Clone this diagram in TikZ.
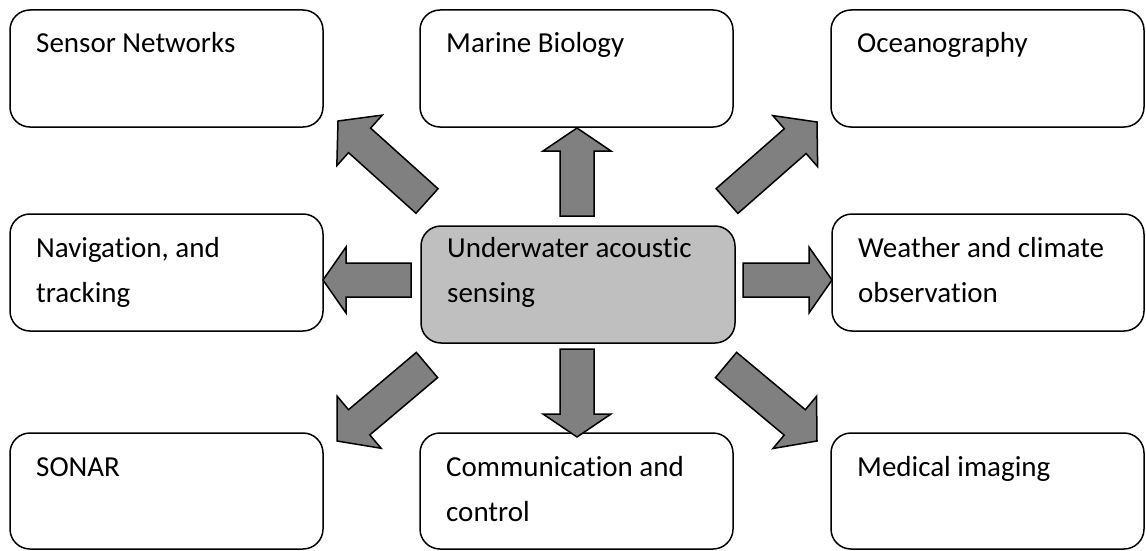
\documentclass[tikz,border=0pt]{standalone}
\usepackage{fontspec}
\setmainfont[Ligatures={NoCommon}]{Carlito}
\usetikzlibrary{calc}
\tikzset{
  box/.style={draw, line width=1.5pt, rounded corners=20pt, anchor=north west,
    minimum width=313pt, minimum height=117pt, inner sep=0pt, outer sep=0pt},
  centerbox/.style={box, fill=black!25},
  lbl/.style={anchor=base west, inner sep=0pt, font=\fontsize{29}{45}\selectfont},
  barrow/.style={draw, line width=1.5pt, fill=black!50, line join=miter}
}
% tail, tip, shaft half width, head half width, head length
\newcommand{\blockarr}[5]{%
  \coordinate (#1#2h) at ($(#2)!#5!(#1)$);
  \draw[barrow] ($(#1)!#3!90:(#2)$) -- ($(#1#2h)!#3!90:(#2)$) -- ($(#1#2h)!#4!90:(#2)$)
    -- (#2) -- ($(#1#2h)!#4!-90:(#2)$) -- ($(#1#2h)!#3!-90:(#2)$) -- ($(#1)!#3!-90:(#2)$) -- cycle;}
\begin{document}
\begin{tikzpicture}[x=1pt, y=-1pt]
\useasboundingbox (0,0) rectangle (1146,551);
% boxes
\node[box] (sn) at (10,10) {};
\node[box] (mb) at (420,10) {};
\node[box] (oc) at (831,10) {};
\node[box] (nav) at (10,214) {};
\node[centerbox, minimum width=314pt] (uas) at (421,226) {};
\node[box, minimum width=312pt] (wea) at (832,214) {};
\node[box, minimum height=116pt] (son) at (10,433) {};
\node[box, minimum height=116pt] (com) at (420,433) {};
\node[box, minimum height=116pt] (med) at (831,433) {};
% texts
\node[lbl] (snt) at (36,53) {Sensor Networks};
\node[lbl] (mbt) at (446,53) {Marine Biology};
\node[lbl] (oct) at (857,53) {Oceanography};
\node[lbl] (navt1) at (36,257) {Navigation, and};
\node[lbl] (navt2) at (36,302) {tracking};
\node[lbl] (uast1) at (447,257) {Underwater acoustic};
\node[lbl] (uast2) at (447,302) {sensing};
\node[lbl] (weat1) at (858,257) {Weather and climate};
\node[lbl] (weat2) at (858,302) {observation};
\node[lbl] (sont) at (36,476) {SONAR};
\node[lbl] (comt1) at (446,476) {Communication and};
\node[lbl] (comt2) at (446,521) {control};
\node[lbl] (medt) at (857,476) {Medical imaging};
% arrow end points
\coordinate (upT) at (577,216);  \coordinate (upP) at (577,128);
\coordinate (dnT) at (577,349);  \coordinate (dnP) at (577,437);
\coordinate (lfT) at (411,280);  \coordinate (lfP) at (323,280);
\coordinate (rtT) at (743,280);  \coordinate (rtP) at (832,280);
\coordinate (ulT) at (427,201);  \coordinate (ulP) at (338,121);
\coordinate (urT) at (727,201);  \coordinate (urP) at (817,122);
\coordinate (dlT) at (427,365);  \coordinate (dlP) at (337,441);
\coordinate (drT) at (726,365);  \coordinate (drP) at (817,441);
% arrows
\blockarr{upT}{upP}{17pt}{34pt}{23pt}
\blockarr{dnT}{dnP}{17pt}{34pt}{23pt}
\blockarr{lfT}{lfP}{17pt}{33pt}{23pt}
\blockarr{rtT}{rtP}{17pt}{33pt}{23pt}
\blockarr{ulT}{ulP}{16.5pt}{34pt}{29pt}
\blockarr{urT}{urP}{16.5pt}{34pt}{29pt}
\blockarr{dlT}{dlP}{16.5pt}{34pt}{29pt}
\blockarr{drT}{drP}{16.5pt}{34pt}{29pt}
\end{tikzpicture}
\end{document}
